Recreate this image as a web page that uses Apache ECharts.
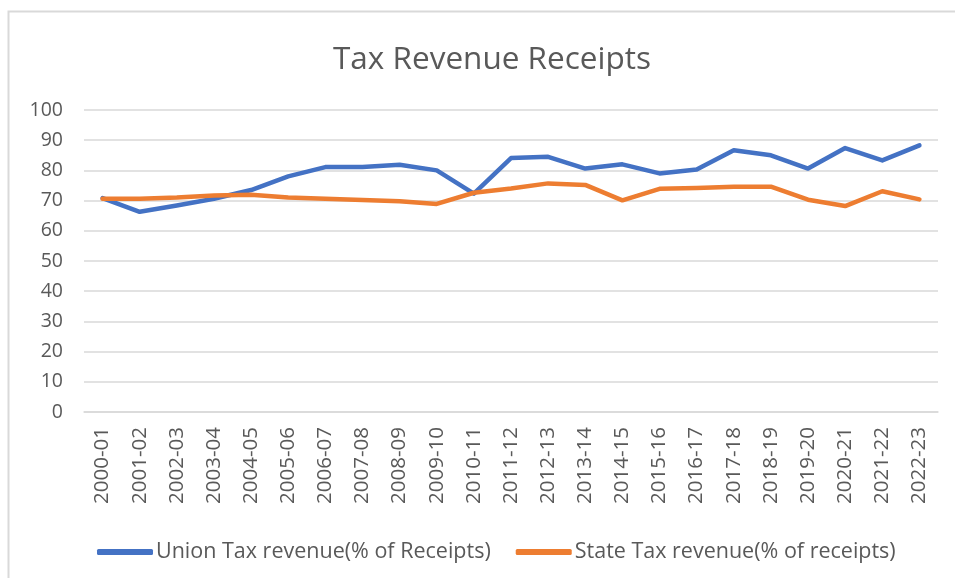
<!DOCTYPE html>
<html>
<head>
<meta charset="utf-8">
<script src="https://cdn.jsdelivr.net/npm/echarts@6/dist/echarts.min.js"></script>
<style>
html,body{margin:0;padding:0;background:#fff;}
#chart{width:955px;height:578px;}
</style>
</head>
<body>
<div id="chart"></div>
<script>
const categories = ["2000-01","2001-02","2002-03","2003-04","2004-05","2005-06","2006-07","2007-08","2008-09","2009-10","2010-11","2011-12","2012-13","2013-14","2014-15","2015-16","2016-17","2017-18","2018-19","2019-20","2020-21","2021-22","2022-23"];
const unionTax = [70.8,66.3,68.4,70.6,73.5,78.0,81.1,81.1,81.9,80.0,72.3,84.1,84.5,80.6,82.0,79.0,80.3,86.7,85.0,80.6,87.4,83.3,88.3];
const stateTax = [70.6,70.6,71.0,71.7,71.9,71.0,70.6,70.2,69.8,68.9,72.6,74.0,75.7,75.2,70.1,73.9,74.2,74.6,74.6,70.3,68.2,73.1,70.4];
const yTicks = {min:0, max:100, interval:10};
const seriesNames = ["Union Tax revenue(% of Receipts)","State Tax revenue(% of receipts)"];

const FONT = "'Open Sans', 'Liberation Sans', sans-serif";
const chart = echarts.init(document.getElementById('chart'), null, {renderer:'canvas'});
chart.setOption({
  animation:false,
  backgroundColor:'#fff',
  graphic:[{
    type:'rect', left:6, top:9, shape:{x:0,y:0,width:960,height:580},
    style:{fill:'none', stroke:'#d9d9d9', lineWidth:2}, silent:true, z:-10
  }],
  title:{
    text:'Tax Revenue Receipts', left:328, top:39,
    textStyle:{fontFamily:FONT, fontSize:31.5, fontWeight:'normal', color:'#595959'}
  },
  grid:{left:84, right:17, top:110, bottom:166, containLabel:false},
  legend:{
    top:536, left:92, itemWidth:56, itemHeight:6, itemGap:25,
    icon:'roundRect',
    textStyle:{fontFamily:FONT, fontSize:21.5, color:'#595959', padding:[0,0,0,-2]},
    data:seriesNames
  },
  xAxis:{
    type:'category', data:categories, boundaryGap:true,
    axisLine:{show:true, lineStyle:{color:'#d9d9d9', width:1.5}},
    axisTick:{show:false},
    axisLabel:{rotate:90, interval:0, margin:15, fontFamily:FONT, fontSize:20.5, color:'#595959'}
  },
  yAxis:{
    type:'value', min:yTicks.min, max:yTicks.max, interval:yTicks.interval,
    axisLine:{show:false}, axisTick:{show:false},
    axisLabel:{margin:21, fontFamily:FONT, fontSize:19.5, color:'#595959'},
    splitLine:{lineStyle:{color:'#d9d9d9', width:1.5}}
  },
  series:[
    {name:seriesNames[0], type:'line', data:unionTax, showSymbol:false, symbol:'none',
     lineStyle:{color:'#4472C4', width:4.5, cap:'round', join:'round'}, itemStyle:{color:'#4472C4'}},
    {name:seriesNames[1], type:'line', data:stateTax, showSymbol:false, symbol:'none',
     lineStyle:{color:'#ED7D31', width:4.5, cap:'round', join:'round'}, itemStyle:{color:'#ED7D31'}}
  ]
});
</script>
</body>
</html>
